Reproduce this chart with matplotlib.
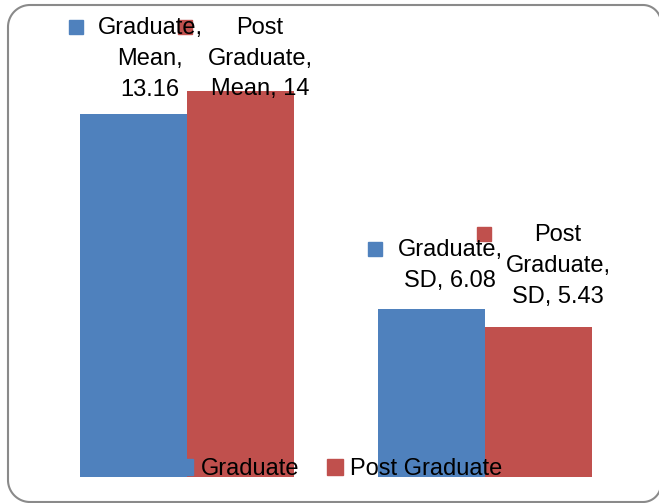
import matplotlib.pyplot as plt
import matplotlib.transforms as mtransforms
from matplotlib.patches import Patch
import numpy as np

plt.rcParams['font.family'] = ['Liberation Sans', 'DejaVu Sans']

stats = ["Mean", "SD"]
groups = ["Graduate", "Post Graduate"]
graduate = [13.16, 6.08]
post_graduate = [14, 5.43]
label_text = {
    ("Graduate", 0): "Graduate,\nMean,\n13.16",
    ("Post Graduate", 0): "Post\nGraduate,\nMean, 14",
    ("Graduate", 1): "Graduate,\nSD, 6.08",
    ("Post Graduate", 1): "Post\nGraduate,\nSD, 5.43",
}
colors = ["#4F81BD", "#C0504D"]

fig = plt.figure(figsize=(6.59, 5.03), dpi=100)


def rounded_outline(x0, y0, x1, y1, r_left, r_right, n=24):
    # closed polyline of a rounded rectangle, corners sampled as arcs
    corners = [
        (x1 - r_right, y1 - r_right, r_right, 0, 90),
        (x0 + r_left, y1 - r_left, r_left, 90, 180),
        (x0 + r_left, y0 + r_left, r_left, 180, 270),
        (x1 - r_right, y0 + r_right, r_right, 270, 360),
    ]
    xs, ys = [], []
    for cx, cy, r, a0, a1 in corners:
        t = np.radians(np.linspace(a0, a1, n))
        xs.extend(cx + r * np.cos(t))
        ys.extend(cy + r * np.sin(t))
    xs.append(xs[0])
    ys.append(ys[0])
    return xs, ys


# overlay in pixel units for the rounded border
bg = fig.add_axes([0, 0, 1, 1], zorder=-1)
bg.set_xlim(0, 659)
bg.set_ylim(0, 503)
bg.axis("off")
bx, by = rounded_outline(8, 1, 661, 498, 22, 18)
bg.plot(bx, by, color="#8a8a8a", lw=1.5, clip_on=False)

ax = fig.add_axes([0.0577, 0.0517, 0.9044, 0.878])

x = np.arange(len(stats))
w = 0.36
series = [graduate, post_graduate]
for i, (name, vals) in enumerate(zip(groups, series)):
    ax.bar(x + (i - 0.5) * w, vals, w, color=colors[i], label=name)

ax.set_xlim(-0.5, 1.5)
ax.set_ylim(0, 16)
ax.axis("off")

# data labels (text offset, key offset) in pixels from the bar top centre
offsets = {
    ("Graduate", 0): ((16.6, 55), (-57.4, 87)),
    ("Post Graduate", 0): ((19.4, 32), (-55.6, 64)),
    ("Graduate", 1): ((18.6, 43.5), (-55.9, 60.5)),
    ("Post Graduate", 1): ((19.4, 61), (-55.1, 93.5)),
}
for i, (name, vals) in enumerate(zip(groups, series)):
    for j, v in enumerate(vals):
        xc = x[j] + (i - 0.5) * w
        (tx, ty), (kx, ky) = offsets[(name, j)]
        ax.annotate(label_text[(name, j)], xy=(xc, v),
                    xytext=(tx * 0.72, ty * 0.72), textcoords="offset points",
                    ha="center", va="center", multialignment="center",
                    fontsize=17, linespacing=1.52, color="black", zorder=5)
        tr = mtransforms.offset_copy(ax.transData, fig=fig,
                                     x=kx * 0.72, y=ky * 0.72, units="points")
        ax.plot([xc], [v], marker="s", markersize=10, color=colors[i],
                transform=tr, clip_on=False, zorder=4)

handles = [Patch(color=c) for c in colors]
fig.legend(handles, groups, loc="center", bbox_to_anchor=(0.516, 0.0676),
           ncol=2, frameon=False, fontsize=17, handlelength=0.65,
           handleheight=0.65, handletextpad=0.3, columnspacing=1.2)

fig.savefig("out.png", dpi=100)
